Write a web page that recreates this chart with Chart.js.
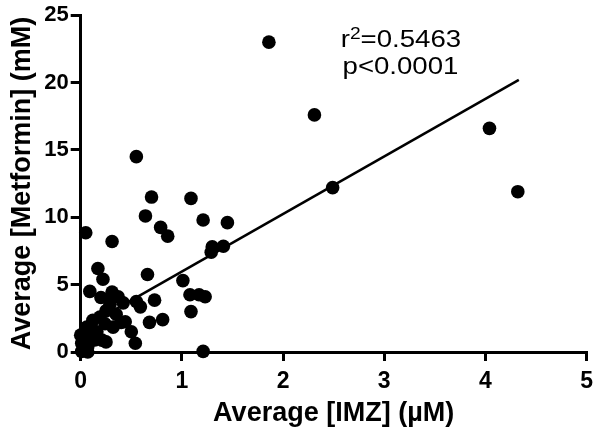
<!DOCTYPE html>
<html lang="en">
<head>
  <meta charset="UTF-8">
  <title>Average IMZ vs Metformin</title>
  <style>
    body { margin: 0; background: #fff; }
    #wrap { width: 600px; height: 436px; }
  </style>
  <script src="https://cdn.jsdelivr.net/npm/chart.js"></script>
</head>
<body>
  <div id="wrap"><canvas id="chart" width="600" height="436"></canvas></div>
  <script>
    // Scatter data
    const imzValues = [
      1.86, 2.31, 4.04, 2.49, 4.32, 0.55, 0.70, 1.09, 0.64, 1.21,
      1.45, 0.05, 0.79, 0.86, 0.31, 1.30, 1.41, 1.29, 0.17, 0.22,
      0.66, 1.01, 0.09, 0.31, 0.20, 0.28, 0.37, 0.42, 0.55, 0.59,
      0.73, 1.08, 1.17, 1.23, 1.09, 0.68, 0.81, 0.50, 0.54, 1.21,
      0.25, 0.12, 0.19, 0.24, 0.32, 0.40, 0.35, 0.25, 0.29, 0.00,
      0.01, 0.01, 0.07, 0.09, 0.16, 0.06, 0.07, 0.44, 0.14, 0.03,
      0.21
    ];
    const metforminValues = [
      23.0, 17.6, 16.6, 12.2, 11.9, 14.5, 11.5, 11.4, 10.1, 9.8,
      9.6, 8.85, 9.25, 8.6, 8.2, 7.8, 7.85, 7.4, 6.2, 5.4,
      5.75, 5.3, 4.5, 4.45, 4.05, 3.9, 4.1, 3.65, 3.75, 3.35,
      3.85, 4.25, 4.25, 4.1, 3.0, 2.2, 2.4, 1.5, 0.65, 0.05,
      0.75, 2.35, 2.6, 2.1, 1.85, 2.2, 2.8, 3.05, 3.55, 1.25,
      0.65, 0.05, 0.4, 1.1, 1.5, 1.85, 0.0, 2.25, 0.9, 0.3,
      0.88
    ];

    // Linear fit endpoints
    const fitX = [0, 4.33];
    const fitY = [1.7, 20.2];

    const xTicks = [0, 1, 2, 3, 4, 5];
    const yTicks = [0, 5, 10, 15, 20, 25];

    const rSquared = '0.5463';
    const pText = 'p<0.0001';

    const points = imzValues.map((x, i) => ({ x, y: metforminValues[i] }));
    const fitLine = fitX.map((x, i) => ({ x, y: fitY[i] }));

    // Draw the r^2 / p text, a bit stretched sideways like the original
    const statsText = {
      id: 'statsText',
      afterDatasetsDraw(chart) {
        const ctx = chart.ctx;
        const xs = chart.scales.x, ys = chart.scales.y;
        const stretch = 1.2;
        ctx.save();
        ctx.fillStyle = '#000';
        ctx.textBaseline = 'alphabetic';
        ctx.textAlign = 'left';

        const x0 = xs.getPixelForValue(2.57);
        const y0 = ys.getPixelForValue(22.63);
        ctx.translate(x0, 0);
        ctx.scale(stretch, 1);
        ctx.font = '23px "Liberation Sans", Arial, sans-serif';
        ctx.fillText('r', 0, y0);
        let w = ctx.measureText('r').width;
        ctx.font = '16px "Liberation Sans", Arial, sans-serif';
        ctx.fillText('2', w, y0 - 8.5);
        w += ctx.measureText('2').width;
        ctx.font = '23px "Liberation Sans", Arial, sans-serif';
        ctx.fillText('=' + rSquared, w, y0);

        const y1 = ys.getPixelForValue(20.67);
        ctx.fillText(pText, 1.5, y1);
        ctx.restore();
      }
    };

    const ctx = document.getElementById('chart').getContext('2d');
    const chart = new Chart(ctx, {
      type: 'scatter',
      data: {
        datasets: [
          {
            label: 'Samples',
            data: points,
            backgroundColor: '#000',
            borderColor: '#000',
            pointRadius: 6.8,
            pointHoverRadius: 6.8,
            borderWidth: 0,
            clip: false,
            order: 1
          },
          {
            label: 'Fit',
            type: 'line',
            data: fitLine,
            borderColor: '#000',
            borderWidth: 2.5,
            pointRadius: 0,
            fill: false,
            order: 2
          }
        ]
      },
      options: {
        responsive: false,
        animation: false,
        events: [],
        layout: { padding: { top: 11, right: 9, left: 0, bottom: 0 } },
        plugins: {
          legend: { display: false },
          tooltip: { enabled: false }
        },
        scales: {
          x: {
            type: 'linear',
            min: 0,
            max: 5,
            afterFit(scale) { scale.height = 84; },
            afterBuildTicks(scale) { scale.ticks = xTicks.map(v => ({ value: v })); },
            border: { display: true, color: '#000', width: 3 },
            grid: { drawOnChartArea: false, color: '#000', lineWidth: 3, tickLength: 9 },
            ticks: {
              color: '#000',
              padding: 7,
              font: { family: '"Liberation Sans", Arial, sans-serif', size: 23, weight: 'bold' }
            },
            title: {
              display: true,
              text: 'Average [IMZ] (\u00b5M)',
              color: '#000',
              padding: { top: 0, bottom: 6 },
              font: { family: '"Liberation Sans", Arial, sans-serif', size: 27, weight: 'bold' }
            }
          },
          y: {
            type: 'linear',
            min: 0,
            max: 25,
            afterFit(scale) { scale.width = 80.7; },
            afterBuildTicks(scale) { scale.ticks = yTicks.map(v => ({ value: v })); },
            border: { display: true, color: '#000', width: 3 },
            grid: { drawOnChartArea: false, color: '#000', lineWidth: 3, tickLength: 10 },
            ticks: {
              color: '#000',
              padding: 2,
              font: { family: '"Liberation Sans", Arial, sans-serif', size: 22, weight: 'bold' }
            },
            title: {
              display: true,
              text: 'Average [Metformin] (mM)',
              color: '#000',
              padding: { top: 6, bottom: 0 },
              font: { family: '"Liberation Sans", Arial, sans-serif', size: 27, weight: 'bold' }
            }
          }
        }
      },
      plugins: [statsText]
    });
  </script>
</body>
</html>
